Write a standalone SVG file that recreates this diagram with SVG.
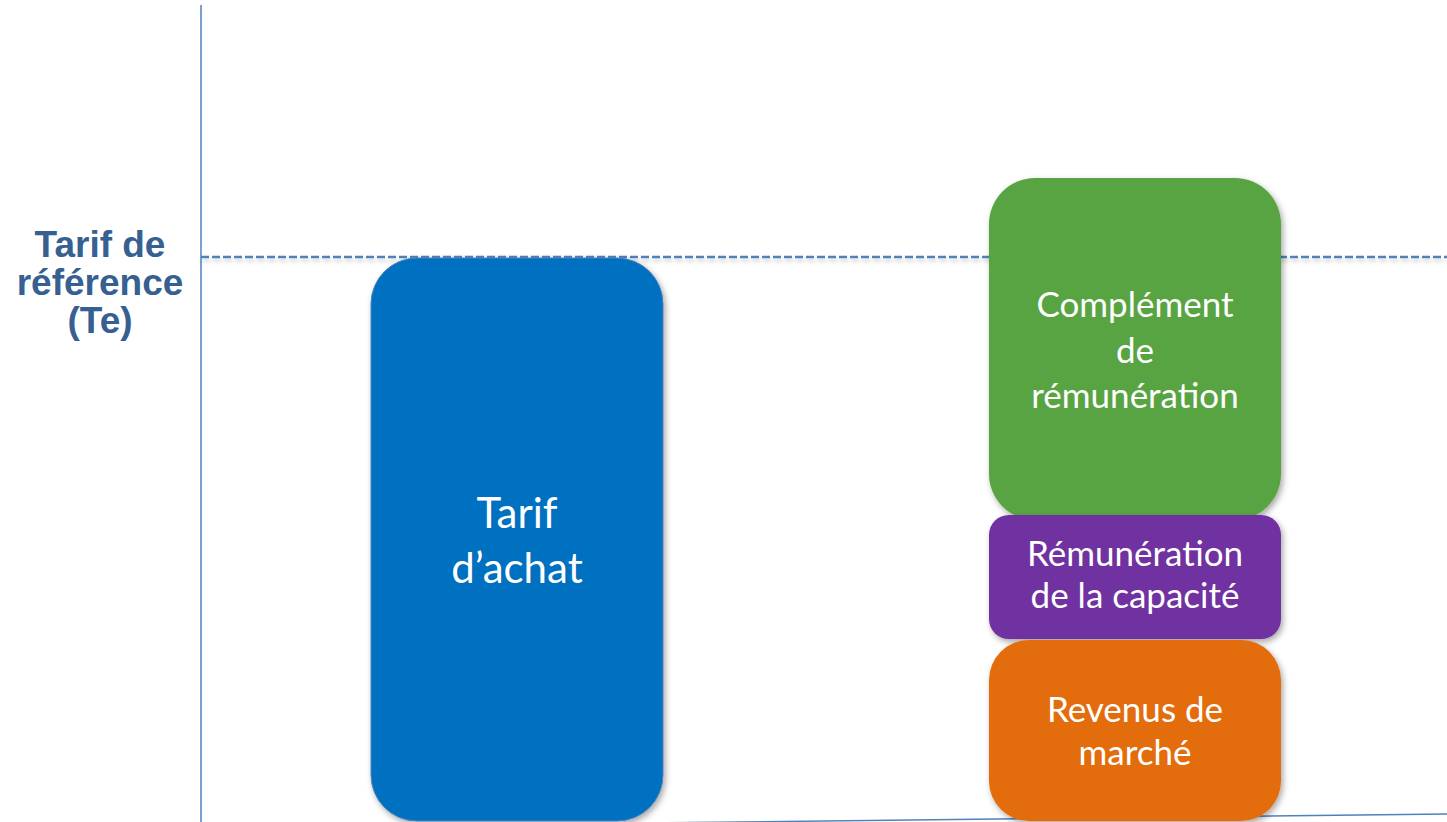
<svg xmlns="http://www.w3.org/2000/svg" width="1447" height="822" viewBox="0 0 1447 822">
<defs>
<filter id="sh" x="-20%" y="-20%" width="140%" height="140%">
<feDropShadow dx="2" dy="3" stdDeviation="3" flood-color="#000" flood-opacity="0.35"/>
</filter>
<filter id="lsh" filterUnits="userSpaceOnUse" x="190" y="245" width="1270" height="30">
<feDropShadow dx="1" dy="3" stdDeviation="2" flood-color="#000" flood-opacity="0.22"/>
</filter>
</defs>
<style>
.box{filter:url(#sh);}
.t{font-family:Lato,"Noto Sans","Liberation Sans",sans-serif;fill:#fff;text-anchor:middle;font-size:35px;}
.big{font-size:42px;}
.ax{stroke:#4F81BD;stroke-width:1.5;fill:none;}
.lbl{font-family:"Liberation Sans",Arial,sans-serif;font-weight:bold;font-size:37px;fill:#366092;text-anchor:middle;}
</style>
<rect width="1447" height="822" fill="#fff"/>
<g id="connectors">
<line class="ax" x1="201" y1="5" x2="201" y2="822"/>
<line class="ax" x1="201" y1="828" x2="1447" y2="814"/>
<line x1="201" y1="257" x2="1447" y2="257" stroke="#4F81BD" stroke-width="2.5" stroke-dasharray="8,3" filter="url(#lsh)"/>
</g>
<g id="label">
<text class="lbl" x="100" y="257">Tarif de</text>
<text class="lbl" x="100" y="295">référence</text>
<text class="lbl" x="100" y="333">(Te)</text>
</g>
<g id="tarif-achat">
<rect class="box" x="371" y="258" width="292" height="563" rx="46" fill="#0070C0" stroke="#4F81BD" stroke-width="1"/>
<text class="t big" x="517" y="528">Tarif</text>
<text class="t big" x="517" y="583">d’achat</text>
</g>
<g id="complement">
<rect class="box" x="989" y="178" width="292" height="342" rx="46" fill="#59A443"/>
<text class="t" x="1135" y="317">Complément</text>
<text class="t" x="1135" y="363">de</text>
<text class="t" x="1135" y="408">rémunération</text>
</g>
<g id="capacite">
<rect class="box" x="989" y="515" width="292" height="124" rx="20" fill="#7030A0"/>
<text class="t" x="1135" y="566">Rémunération</text>
<text class="t" x="1135" y="608">de la capacité</text>
</g>
<g id="marche">
<rect class="box" x="989" y="640" width="292" height="181" rx="40" fill="#E36C0A"/>
<text class="t" x="1135" y="722">Revenus de</text>
<text class="t" x="1135" y="765">marché</text>
</g>
</svg>
